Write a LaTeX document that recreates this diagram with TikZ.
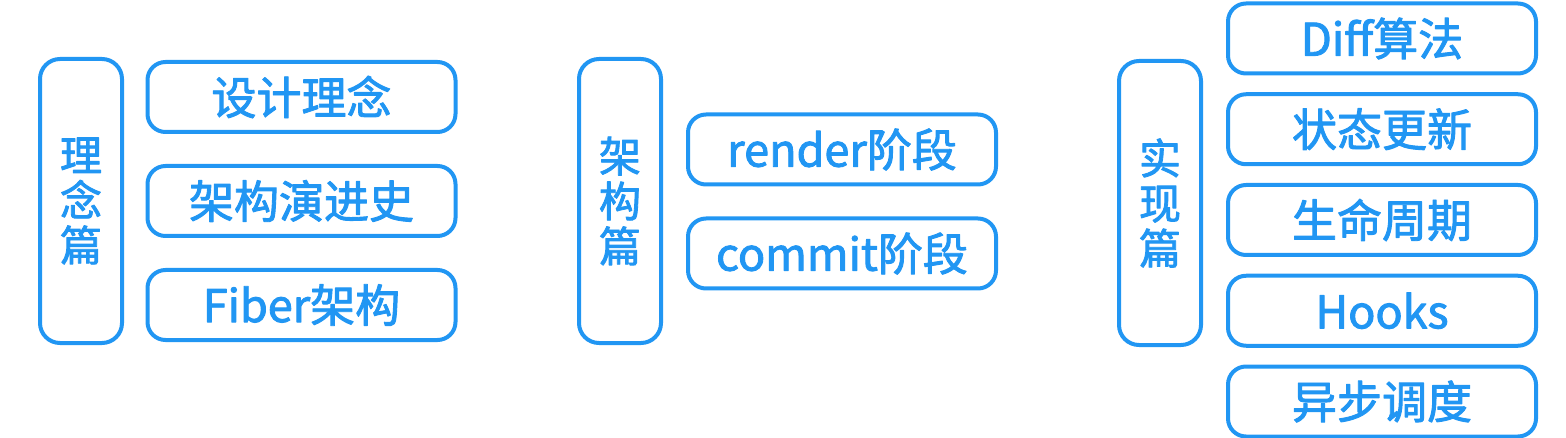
\documentclass[tikz,border=0pt]{standalone}
\usepackage{fontspec}
\setmainfont{Noto Sans CJK SC}[FakeBold=2]
\definecolor{cblue}{RGB}{33,150,243}
\tikzset{
	part/.style={draw=cblue, text=cblue, line width=4pt, rounded corners=20pt,
		minimum width=82pt, minimum height=284pt, inner sep=0pt, align=center,
		font=\fontsize{42}{45}\selectfont},
	item/.style={draw=cblue, text=cblue, line width=4pt, rounded corners=18pt,
		minimum width=308pt, minimum height=70pt, inner sep=0pt,
		font=\fontsize{45}{48}\selectfont}
}
\begin{document}
\begin{tikzpicture}[x=1pt, y=-1pt, line join=round, line cap=round]
		\useasboundingbox (0,0) rectangle (1566,438);
		\path
			(81,201) coordinate (L)
			(620,201) coordinate (M)
			(1160,203) coordinate (R);
		% parts
		\node[part] (LP) at (L) {理\\念\\篇};
		\node[part] (MP) at (M) {架\\构\\篇};
		\node[part] (RP) at (R) {实\\现\\篇};
		% items
		\foreach \t [count=\i] in {设计理念, 架构演进史, Fiber架构}
			\node[item] (L\i) at (301.5, {97+104*(\i-1)}) {\t};
		\foreach \t [count=\i] in {render阶段, commit阶段}
			\node[item] (M\i) at (842, {149.5+104*(\i-1)}) {\t};
		\foreach \t [count=\i] in {Diff算法, 状态更新, 生命周期, Hooks, 异步调度}
			\node[item] (R\i) at (1382, {38.5+90.75*(\i-1)}) {\t};
		\end{tikzpicture}
\end{document}
